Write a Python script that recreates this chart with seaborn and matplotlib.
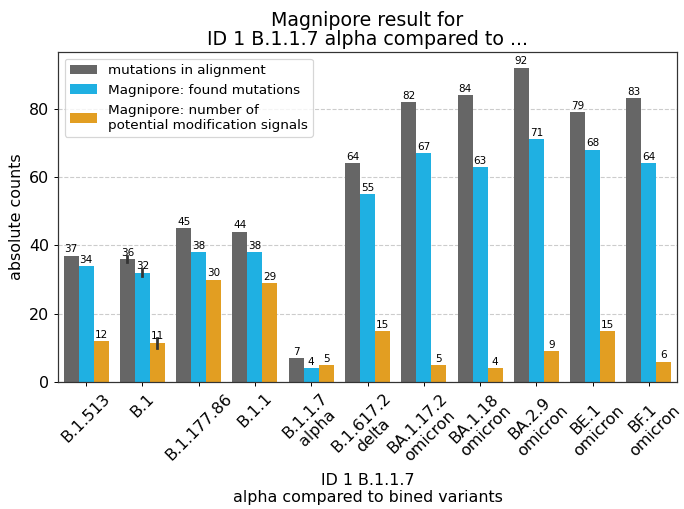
import matplotlib
matplotlib.use("Agg")
import matplotlib.pyplot as plt
import seaborn as sns
import pandas as pd

categories = ["B.1.513", "B.1", "B.1", "B.1.177.86", "B.1.1", "B.1.1.7\nalpha",
              "B.1.617.2\ndelta", "BA.1.17.2\nomicron", "BA.1.18\nomicron",
              "BA.2.9\nomicron", "BE.1\nomicron", "BF.1\nomicron"]
mutations_in_alignment = [37, 35, 37, 45, 44, 7, 64, 82, 84, 92, 79, 83]
found_mutations = [34, 31, 33, 38, 38, 4, 55, 67, 63, 71, 68, 64]
modification_signals = [12, 10, 13, 30, 29, 5, 15, 5, 4, 9, 15, 6]

series_names = ["mutations in alignment", "Magnipore: found mutations",
                "Magnipore: number of\npotential modification signals"]
colors = ["#666666", "#1fb0e2", "#e29e22"]

rows = []
for name, vals in zip(series_names, [mutations_in_alignment, found_mutations, modification_signals]):
    for c, v in zip(categories, vals):
        rows.append({"variant": c, "value": v, "type": name})
df = pd.DataFrame(rows)

order = list(dict.fromkeys(categories))

plt.rcParams["font.family"] = ["DejaVu Sans"]

fig, ax = plt.subplots(figsize=(684 / 88, 509 / 88), dpi=88)
sns.barplot(data=df, x="variant", y="value", hue="type", order=order,
            hue_order=series_names, palette=colors, errorbar=("pi", 100),
            saturation=1, linewidth=0, err_kws={"color": "#333333"}, ax=ax)

for cont in ax.containers:
    ax.bar_label(cont, fmt="%d", fontsize=8.5, padding=1)

ax.set_axisbelow(True)
ax.yaxis.grid(True, linestyle="--", color="#cccccc", linewidth=0.9)
for s in ax.spines.values():
    s.set_visible(True)
    s.set_color("#333333")
    s.set_linewidth(1.0)

ax.set_title("Magnipore result for\nID 1 B.1.1.7 alpha compared to ...", fontsize=15.5,
             linespacing=0.95, pad=6)
ax.set_ylabel("absolute counts", fontsize=13)
ax.set_xlabel("ID 1 B.1.1.7\nalpha compared to bined variants", fontsize=13)
ax.set_yticks([0, 20, 40, 60, 80])
ax.tick_params(axis="both", labelsize=13)
plt.setp(ax.get_xticklabels(), rotation=45, ha="center")
ax.legend(loc="upper left", fontsize=11, frameon=True)

fig.subplots_adjust(left=58 / 684, right=677 / 684, top=1 - 52 / 509, bottom=1 - 382 / 509)
fig.savefig("out.png", dpi=88)
